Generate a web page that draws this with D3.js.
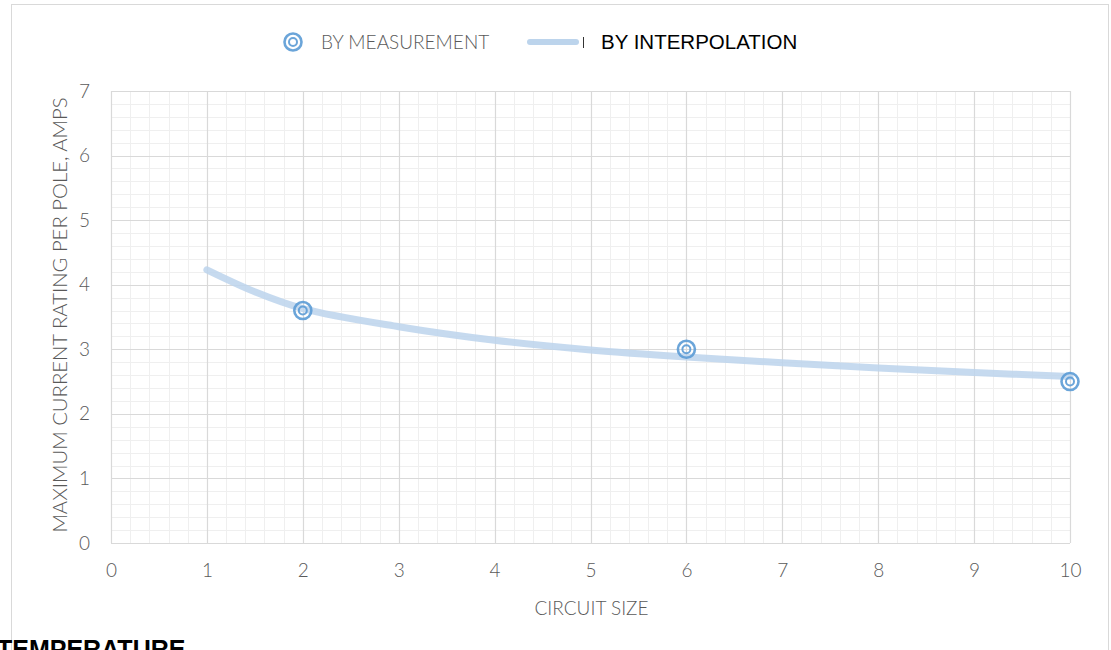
<!DOCTYPE html>
<html>
<head>
<meta charset="utf-8">
<script src="https://cdn.jsdelivr.net/npm/d3@7"></script>
<style>
  html, body { margin: 0; padding: 0; background: #fff; overflow: hidden; }
  svg { display: block; }
</style>
</head>
<body>
<svg id="chart" width="1111" height="650"></svg>
<script>
// ---- data ----
const measuredX = [2, 6, 10];
const measuredY = [3.6, 3.0, 2.5];
const interpX = [1, 1.5, 2, 3, 4, 5, 6, 7, 8, 9, 10];
const interpY = [4.23, 3.89, 3.63, 3.35, 3.14, 2.99, 2.88, 2.79, 2.71, 2.64, 2.58];
const xTicks = [0, 1, 2, 3, 4, 5, 6, 7, 8, 9, 10];
const yTicks = [0, 1, 2, 3, 4, 5, 6, 7];
const seriesNames = ["BY MEASUREMENT", "BY INTERPOLATION"];
const xTitle = "CIRCUIT SIZE";
const yTitle = "MAXIMUM CURRENT RATING PER POLE, AMPS";
const footerText = "TEMPERATURE";

// ---- layout ----
const svg = d3.select("#chart");
const pLeft = 111, pRight = 1070, pTop = 91, pBottom = 543;
const x = d3.scaleLinear().domain([0, 10]).range([pLeft, pRight]);
const y = d3.scaleLinear().domain([0, 7]).range([pBottom, pTop]);
const tickFont = "Lato, 'Open Sans', sans-serif";
const gray = "#595959";

// outer chart border
svg.append("rect").attr("x", 11.5).attr("y", 4.5).attr("width", 1097).attr("height", 700)
  .attr("fill", "none").attr("stroke", "#d9d9d9").attr("stroke-width", 1);

// minor grid
const minorX = d3.range(0, 10.0001, 0.2).map(v => +v.toFixed(1));
const minorY = d3.range(0, 7.0001, 0.2).map(v => +v.toFixed(1));
const grid = svg.append("g");
grid.selectAll(".mx").data(minorX).enter().append("line")
  .attr("x1", d => Math.round(x(d)) + 0.5).attr("x2", d => Math.round(x(d)) + 0.5)
  .attr("y1", pTop).attr("y2", pBottom).attr("stroke", "#efefef").attr("stroke-width", 1);
grid.selectAll(".my").data(minorY).enter().append("line")
  .attr("y1", d => Math.round(y(d)) + 0.5).attr("y2", d => Math.round(y(d)) + 0.5)
  .attr("x1", pLeft).attr("x2", pRight).attr("stroke", "#efefef").attr("stroke-width", 1);
// major grid
grid.selectAll(".Mx").data(xTicks).enter().append("line")
  .attr("x1", d => Math.round(x(d)) + 0.5).attr("x2", d => Math.round(x(d)) + 0.5)
  .attr("y1", pTop).attr("y2", pBottom).attr("stroke", "#d9d9d9").attr("stroke-width", 1.2);
grid.selectAll(".My").data(yTicks).enter().append("line")
  .attr("y1", d => Math.round(y(d)) + 0.5).attr("y2", d => Math.round(y(d)) + 0.5)
  .attr("x1", pLeft).attr("x2", pRight).attr("stroke", "#d9d9d9").attr("stroke-width", 1.2);

// axes (labels only)
const xAxis = svg.append("g").attr("transform", `translate(0,${pBottom})`)
  .call(d3.axisBottom(x).tickValues(xTicks).tickSize(0).tickPadding(21).tickFormat(d3.format("d")));
xAxis.select(".domain").remove();
xAxis.selectAll("text").attr("fill", gray).style("font-family", tickFont)
  .style("font-weight", 300).style("font-size", "19px");

const yAxis = svg.append("g").attr("transform", `translate(${pLeft},0)`)
  .call(d3.axisLeft(y).tickValues(yTicks).tickSize(0).tickPadding(21).tickFormat(d3.format("d")));
yAxis.select(".domain").remove();
yAxis.selectAll("text").attr("fill", gray).style("font-family", tickFont)
  .style("font-weight", 300).style("font-size", "19px");

// axis titles
svg.append("text").attr("x", (pLeft + pRight) / 2 + 1).attr("y", 615)
  .attr("text-anchor", "middle").attr("fill", gray)
  .style("font-family", tickFont).style("font-weight", 300).style("font-size", "19px").text(xTitle);
svg.append("text").attr("transform", `translate(67,${(pTop + pBottom) / 2 - 2}) rotate(-90)`)
  .attr("text-anchor", "middle").attr("fill", gray)
  .style("font-family", tickFont).style("font-weight", 300).style("font-size", "20.3px").text(yTitle);

// interpolation line
const pts = interpX.map((v, i) => [v, interpY[i]]);
svg.append("path").datum(pts)
  .attr("d", d3.line().x(d => x(d[0])).y(d => y(d[1])).curve(d3.curveCatmullRom))
  .attr("fill", "none").attr("stroke", "#bcd4ec").attr("stroke-opacity", 0.85)
  .attr("stroke-width", 7).attr("stroke-linecap", "round");

// markers
const markerColor = "#5b9bd5";
function marker(g, cx, cy) {
  g.append("circle").attr("cx", cx).attr("cy", cy).attr("r", 8.5)
    .attr("fill", "none").attr("stroke", markerColor).attr("stroke-width", 2.6).attr("stroke-opacity", 0.9);
  g.append("circle").attr("cx", cx).attr("cy", cy).attr("r", 4)
    .attr("fill", "none").attr("stroke", markerColor).attr("stroke-width", 2).attr("stroke-opacity", 0.9);
}
const mg = svg.append("g");
measuredX.forEach((v, i) => marker(mg, x(v), y(measuredY[i])));

// legend
const lg = svg.append("g");
marker(lg, 293, 42);
lg.append("text").attr("x", 321).attr("y", 49).attr("fill", gray)
  .style("font-family", tickFont).style("font-weight", 300).style("font-size", "19px").text(seriesNames[0]);
lg.append("line").attr("x1", 530).attr("x2", 576).attr("y1", 42).attr("y2", 42)
  .attr("stroke", "#bcd4ec").attr("stroke-width", 6).attr("stroke-linecap", "round");
lg.append("line").attr("x1", 583.5).attr("x2", 583.5).attr("y1", 37).attr("y2", 48)
  .attr("stroke", "#333").attr("stroke-width", 1);
lg.append("text").attr("x", 601).attr("y", 49).attr("fill", "#000")
  .style("font-family", "'Liberation Sans', Arial, sans-serif").style("font-size", "20.5px").text(seriesNames[1]);

// footer text (cut off at the bottom edge, as in the reference)
svg.append("text").attr("x", -3).attr("y", 658).attr("fill", "#000")
  .style("font-family", "'Liberation Sans', Arial, sans-serif").style("font-weight", "bold")
  .style("font-size", "25px").text(footerText);
</script>
</body>
</html>
